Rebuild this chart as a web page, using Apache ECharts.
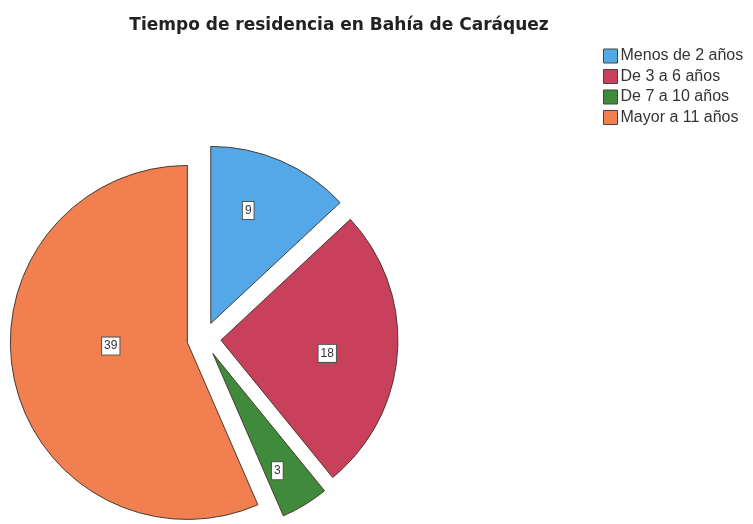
<!DOCTYPE html>
<html>
<head>
<meta charset="utf-8">
<script src="https://cdn.jsdelivr.net/npm/echarts@6/dist/echarts.min.js"></script>
<style>
  html, body { margin: 0; padding: 0; background: #fff; }
  #chart { width: 753px; height: 524px; }
</style>
</head>
<body>
<div id="chart"></div>
<script>
const categories = ['Menos de 2 años', 'De 3 a 6 años', 'De 7 a 10 años', 'Mayor a 11 años'];
const values = [9, 18, 3, 39];
const colors = ['#55a8e8', '#c9405c', '#3f8a3b', '#f27f4f'];
// small nudges so the value boxes sit where the original put them
const labelNudge = [[1, -29], [15, 7], [17, 39], [13, -15]];

const myChart = echarts.init(document.getElementById('chart'));

const option = {
    backgroundColor: '#fff',
    color: colors,
    title: {
        text: 'Tiempo de residencia en Bahía de Caráquez',
        left: 334,
        top: 12,
        textAlign: 'center',
        textStyle: {
            fontFamily: 'DejaVu Sans',
            fontSize: 17,
            fontWeight: 'bold',
            color: '#222'
        }
    },
    legend: {
        orient: 'vertical',
        left: 598,
        top: 43,
        icon: 'rect',
        itemWidth: 14,
        itemHeight: 14,
        itemGap: 4.5,
        selectedMode: false,
        textStyle: {
            fontFamily: 'Liberation Sans',
            fontSize: 16,
            lineHeight: 14,
            color: '#333',
            padding: [0, 0, 0, -2]
        },
        itemStyle: {
            borderColor: '#444',
            borderWidth: 1
        },
        data: categories
    },
    series: [{
        type: 'pie',
        center: [204, 339],
        radius: 177,
        startAngle: 90,
        clockwise: true,
        selectedMode: 'multiple',
        selectedOffset: 17,
        animation: false,
        itemStyle: {
            borderColor: '#4a3a30',
            borderWidth: 1
        },
        emphasis: { disabled: true },
        label: {
            position: 'inside',
            formatter: '{c}',
            fontFamily: 'Liberation Sans',
            fontSize: 12,
            color: '#333',
            backgroundColor: '#fff',
            borderColor: '#555',
            borderWidth: 1,
            padding: [3, 2, 2, 2]
        },
        labelLine: { show: false },
        labelLayout: function (params) {
            const n = labelNudge[params.dataIndex];
            return { dx: n[0], dy: n[1] };
        },
        data: categories.map((name, i) => ({
            name: name,
            value: values[i],
            selected: true
        }))
    }]
};

myChart.setOption(option);
</script>
</body>
</html>
